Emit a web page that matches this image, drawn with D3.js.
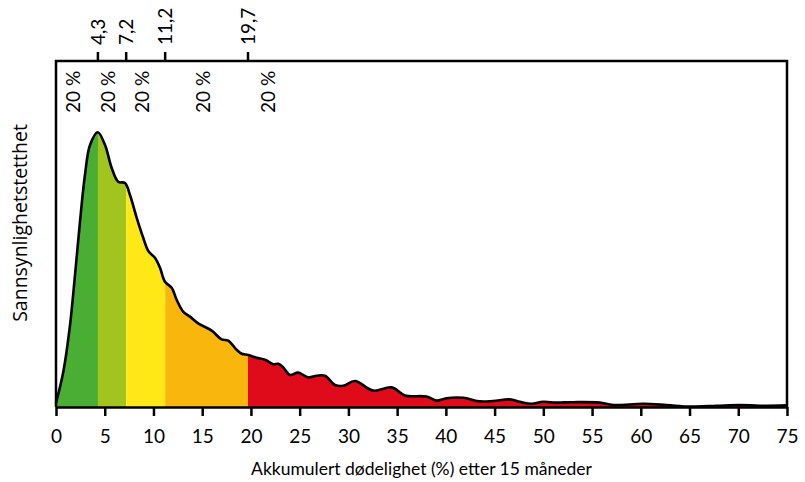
<!DOCTYPE html>
<html>
<head>
<meta charset="utf-8">
<script src="https://cdn.jsdelivr.net/npm/d3@7"></script>
<style>
  body { margin: 0; background: #fff; }
  svg { display: block; }
</style>
</head>
<body>
<svg id="chart" width="805" height="482"></svg>
<script>
// Accumulated mortality after 15 months (%), sampled along the density curve
const mortality = [
  0, 0.75, 1.44, 1.95, 2.46, 2.97, 3.49, 4.28, 5.03, 5.71,
  6.39, 7.08, 7.59, 8.28, 8.95, 9.47, 10.15, 10.67, 11.18, 11.87,
  12.38, 13.06, 13.74, 14.59, 15.97, 16.99, 17.67, 18.53, 19.05, 19.72,
  20.58, 21.44, 22.29, 22.8, 23.31, 24.0, 24.85, 25.88, 26.74, 27.59,
  28.62, 29.47, 30.67, 32.54, 34.43, 35.79, 38.02, 39.05, 40.07, 41.77,
  43.49, 44.85, 46.56, 47.59, 48.79, 49.98, 51.35, 53.06, 55.79, 57.16,
  60.24, 62.63, 65.03, 67.76, 70.15, 72.21, 75
];
// Probability density at each sample
const density = [
  0.0010, 0.0088, 0.0205, 0.0330, 0.0463, 0.0580, 0.0655, 0.0687, 0.0655, 0.0598,
  0.0563, 0.0560, 0.0530, 0.0473, 0.0423, 0.0390, 0.0373, 0.0348, 0.0313, 0.0298,
  0.0268, 0.0238, 0.0226, 0.0209, 0.0191, 0.0169, 0.0166, 0.0143, 0.0133, 0.0130,
  0.0123, 0.0118, 0.0107, 0.0108, 0.0099, 0.0080, 0.0086, 0.0074, 0.0078, 0.0078,
  0.0055, 0.0053, 0.0065, 0.0041, 0.0049, 0.0029, 0.0026, 0.0016, 0.0022, 0.0023,
  0.0014, 0.0015, 0.0019, 0.0013, 0.0008, 0.0013, 0.0011, 0.0012, 0.0011, 0.0005,
  0.0008, 0.0005, 0.0001, 0.0003, 0.0005, 0.0003, 0.0004
];
// Quintile boundaries (each band holds 20 % of the distribution)
const quintileBreaks = [0, 4.3, 7.2, 11.2, 19.7, 75];
const quintileLabels = ["4,3", "7,2", "11,2", "19,7"];
const bandShares = ["20 %", "20 %", "20 %", "20 %", "20 %"];
const bandColors = ["#4aae35", "#a2c41f", "#ffe816", "#f9b70d", "#e00b1a"];
const xTicks = d3.range(0, 76, 5);

const svg = d3.select("#chart");
const plotLeft = 56, plotRight = 787, plotTop = 61, plotBottom = 407;

const x = d3.scaleLinear().domain([0, 75]).range([plotLeft, plotRight]);
const y = d3.scaleLinear().domain([0, 0.08]).range([plotBottom, plotBottom - 320]);

const pts = mortality.map((m, i) => [m, density[i]]);
const curve = d3.curveCatmullRom.alpha(0.5);

const area = d3.area()
  .x(d => x(d[0])).y0(y(0)).y1(d => y(d[1]))
  .curve(curve);
const line = d3.line()
  .x(d => x(d[0])).y(d => y(d[1]))
  .curve(curve);

// One clip rectangle per quintile band
const defs = svg.append("defs");
quintileBreaks.slice(0, -1).forEach((q0, i) => {
  const q1 = quintileBreaks[i + 1];
  defs.append("clipPath").attr("id", "band" + i)
    .append("rect")
    .attr("x", x(q0)).attr("y", 0)
    .attr("width", x(q1) - x(q0)).attr("height", plotBottom);
});

svg.append("g").selectAll("path")
  .data(bandColors)
  .join("path")
  .attr("d", area(pts))
  .attr("fill", d => d)
  .attr("clip-path", (d, i) => `url(#band${i})`);

// Density outline
svg.append("path")
  .attr("d", line(pts))
  .attr("fill", "none")
  .attr("stroke", "#000")
  .attr("stroke-width", 2.6)
  .attr("stroke-linejoin", "round");

// Frame: left, top and right sides
svg.append("path")
  .attr("d", `M${plotLeft},${plotBottom}V${plotTop}H${plotRight}V${plotBottom}`)
  .attr("fill", "none")
  .attr("stroke", "#000")
  .attr("stroke-width", 2.5);

const axisFont = "Lato, 'DejaVu Sans', sans-serif";

// Bottom axis
const xAxis = svg.append("g")
  .attr("transform", `translate(0,${plotBottom})`)
  .call(d3.axisBottom(x).tickValues(xTicks).tickSize(9).tickPadding(14).tickSizeOuter(0));
xAxis.select(".domain").attr("stroke-width", 2.5);
xAxis.selectAll(".tick line").attr("stroke-width", 2.5);
xAxis.selectAll(".tick text")
  .attr("font-family", axisFont)
  .attr("font-size", 19)
  .attr("fill", "#000");

// Quintile ticks on the top edge
const topTicks = svg.append("g");
topTicks.selectAll("line")
  .data(quintileBreaks.slice(1, -1))
  .join("line")
  .attr("x1", d => x(d)).attr("x2", d => x(d))
  .attr("y1", plotTop).attr("y2", plotTop - 9)
  .attr("stroke", "#000").attr("stroke-width", 2.5);
topTicks.selectAll("text")
  .data(quintileBreaks.slice(1, -1))
  .join("text")
  .attr("transform", d => `translate(${x(d)},${plotTop - 16}) rotate(-90)`)
  .attr("dy", "0.35em")
  .attr("font-family", axisFont)
  .attr("font-size", 19)
  .text((d, i) => quintileLabels[i]);

// Share of the distribution inside each band
const shareX = quintileBreaks.slice(0, -1).map((q0, i) => {
  const q1 = quintileBreaks[i + 1];
  return i < quintileBreaks.length - 2 ? (q0 + q1) / 2 : q0 + 2.5;
});
svg.append("g").selectAll("text")
  .data(bandShares)
  .join("text")
  .attr("transform", (d, i) => `translate(${x(shareX[i]) + 3},${plotTop + 52}) rotate(-90)`)
  .attr("font-family", axisFont)
  .attr("font-size", 19)
  .text(d => d);

// Axis titles
svg.append("text")
  .attr("x", (plotLeft + plotRight) / 2).attr("y", 475)
  .attr("text-anchor", "middle")
  .attr("font-family", axisFont)
  .attr("font-size", 17.5)
  .text("Akkumulert dødelighet (%) etter 15 måneder");

svg.append("text")
  .attr("transform", `translate(27,223) rotate(-90)`)
  .attr("text-anchor", "middle")
  .attr("font-family", "'Open Sans', 'Noto Sans', sans-serif")
  .attr("font-size", 19.5)
  .text("Sannsynlighetstetthet");
</script>
</body>
</html>
